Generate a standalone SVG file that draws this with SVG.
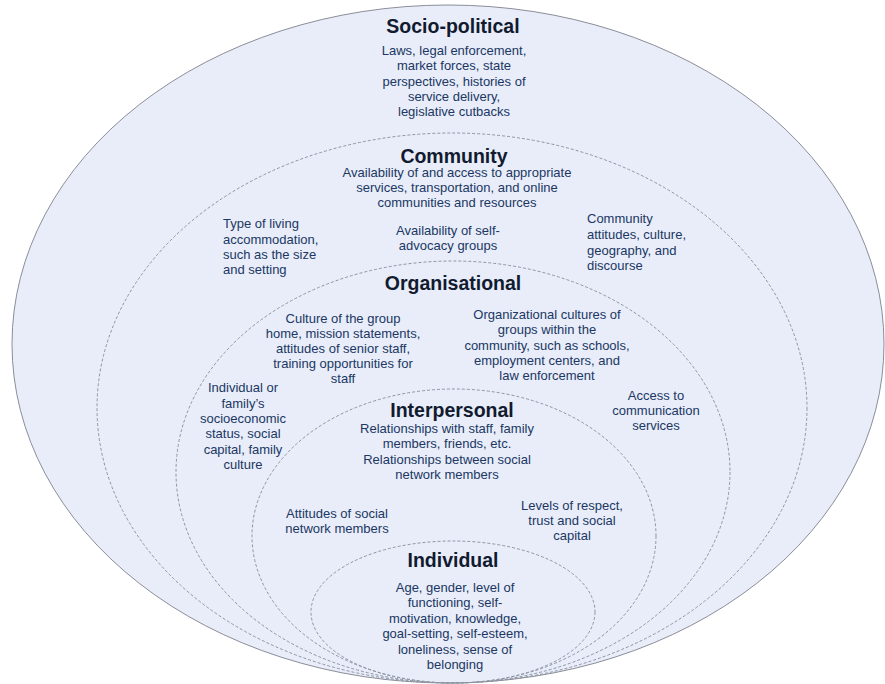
<svg xmlns="http://www.w3.org/2000/svg" width="885" height="684" viewBox="0 0 885 684">
<style>
  .ring { fill: none; stroke: #8e94a3; stroke-width: 1; stroke-dasharray: 3 2; }
  .outer { fill: #e8edf9; stroke: #8a8e98; stroke-width: 1; }
  .title { font-family: "Liberation Sans", Arial, sans-serif; font-weight: bold; font-size: 19.5px; fill: #121a30; text-anchor: middle; }
  .body { font-family: "Liberation Sans", Arial, sans-serif; font-size: 13px; fill: #203763; text-anchor: middle; }
  .left { text-anchor: start; }
</style>
<rect width="885" height="684" fill="#ffffff"/>

<g id="socio-political">
  <ellipse class="outer" cx="448" cy="344" rx="436" ry="339"/>
  <text class="title" x="453" y="33">Socio-political</text>
  <text class="body" x="454" y="55">Laws, legal enforcement,</text>
  <text class="body" x="454" y="70">market forces, state</text>
  <text class="body" x="454" y="86">perspectives, histories of</text>
  <text class="body" x="454" y="101">service delivery,</text>
  <text class="body" x="454" y="116">legislative cutbacks</text>
</g>

<g id="community">
  <ellipse class="ring" cx="452" cy="408" rx="355" ry="275"/>
  <text class="title" x="454" y="163">Community</text>
  <text class="body" x="457" y="177">Availability of and access to appropriate</text>
  <text class="body" x="457" y="192">services, transportation, and online</text>
  <text class="body" x="457" y="207">communities and resources</text>
  <text class="body left" x="223" y="228">Type of living</text>
  <text class="body left" x="223" y="244">accommodation,</text>
  <text class="body left" x="223" y="259">such as the size</text>
  <text class="body left" x="223" y="274">and setting</text>
  <text class="body" x="448" y="235">Availability of self-</text>
  <text class="body" x="448" y="250">advocacy groups</text>
  <text class="body left" x="587" y="223">Community</text>
  <text class="body left" x="587" y="239">attitudes, culture,</text>
  <text class="body left" x="587" y="255">geography, and</text>
  <text class="body left" x="587" y="270">discourse</text>
  <text class="body" x="243" y="392">Individual or</text>
  <text class="body" x="243" y="408">family’s</text>
  <text class="body" x="243" y="423">socioeconomic</text>
  <text class="body" x="243" y="438">status, social</text>
  <text class="body" x="243" y="454">capital, family</text>
  <text class="body" x="243" y="469">culture</text>
  <text class="body" x="656" y="400">Access to</text>
  <text class="body" x="656" y="415">communication</text>
  <text class="body" x="656" y="430">services</text>
</g>

<g id="organisational">
  <ellipse class="ring" cx="453" cy="472" rx="277" ry="211"/>
  <text class="title" x="453" y="290">Organisational</text>
  <text class="body" x="343" y="323">Culture of the group</text>
  <text class="body" x="343" y="338">home, mission statements,</text>
  <text class="body" x="343" y="353">attitudes of senior staff,</text>
  <text class="body" x="343" y="368">training opportunities for</text>
  <text class="body" x="343" y="383">staff</text>
  <text class="body" x="547" y="319">Organizational cultures of</text>
  <text class="body" x="547" y="334">groups within the</text>
  <text class="body" x="547" y="350">community, such as schools,</text>
  <text class="body" x="547" y="365">employment centers, and</text>
  <text class="body" x="547" y="380">law enforcement</text>
</g>

<g id="interpersonal">
  <ellipse class="ring" cx="454" cy="536" rx="202" ry="147"/>
  <text class="title" x="452" y="417">Interpersonal</text>
  <text class="body" x="447" y="433">Relationships with staff, family</text>
  <text class="body" x="447" y="448">members, friends, etc.</text>
  <text class="body" x="447" y="464">Relationships between social</text>
  <text class="body" x="447" y="479">network members</text>
  <text class="body" x="337" y="518">Attitudes of social</text>
  <text class="body" x="337" y="533">network members</text>
  <text class="body" x="572" y="510">Levels of respect,</text>
  <text class="body" x="572" y="525">trust and social</text>
  <text class="body" x="572" y="540">capital</text>
</g>

<g id="individual">
  <ellipse class="ring" cx="453" cy="612" rx="142" ry="71"/>
  <text class="title" x="453" y="567">Individual</text>
  <text class="body" x="455" y="592">Age, gender, level of</text>
  <text class="body" x="455" y="607">functioning, self-</text>
  <text class="body" x="455" y="623">motivation, knowledge,</text>
  <text class="body" x="455" y="638">goal-setting, self-esteem,</text>
  <text class="body" x="455" y="654">loneliness, sense of</text>
  <text class="body" x="455" y="669">belonging</text>
</g>

<g id="connectors"></g>
</svg>
